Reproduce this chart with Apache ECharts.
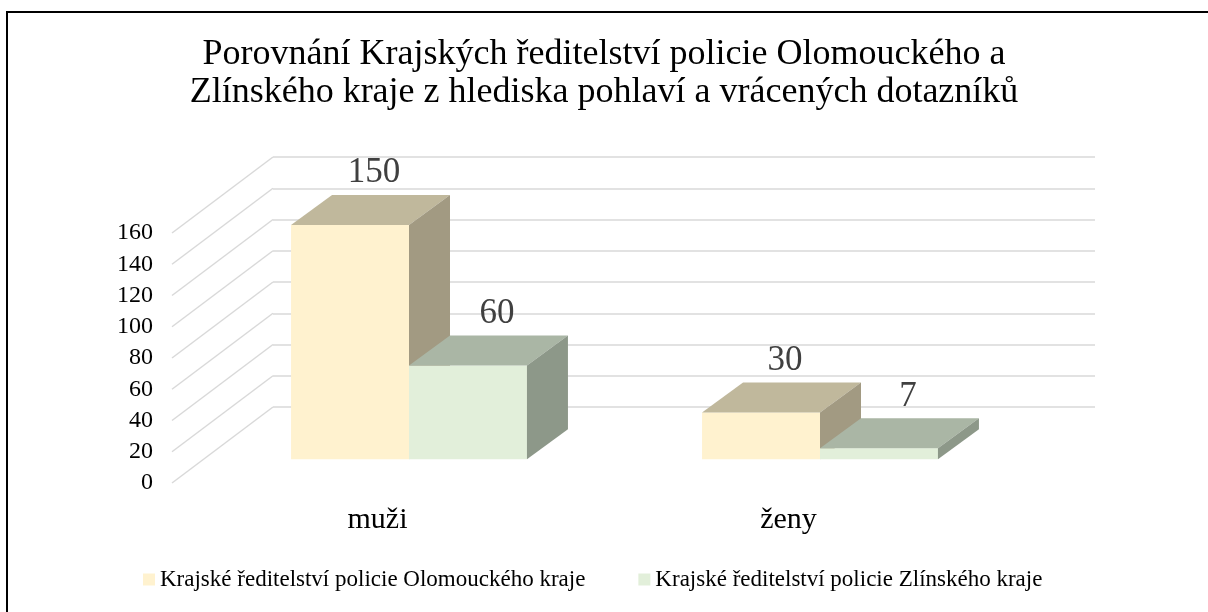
<!DOCTYPE html>
<html>
<head>
<meta charset="utf-8">
<script src="https://cdn.jsdelivr.net/npm/echarts@6/dist/echarts.min.js"></script>
<style>
  html, body { margin: 0; padding: 0; background: #fff; }
  #chart { width: 1208px; height: 612px; }
</style>
</head>
<body>
<div id="chart"></div>
<script>
// data
var categories = ['muži', 'ženy'];
var seriesNames = ['Krajské ředitelství policie Olomouckého kraje', 'Krajské ředitelství policie Zlínského kraje'];
var olomoucValues = [150, 30];
var zlinValues = [60, 7];
var yTicks = [0, 20, 40, 60, 80, 100, 120, 140, 160];

// fake 3d: shift from front plane to back wall, bar placement and depth
var WALL_DX = 101, WALL_DY = -76;
var SHIFT_X = 31.5, SHIFT_Y = -23.7;
var DEPTH_X = 41, DEPTH_Y = -30;
var FONT = '"Liberation Serif", "Times New Roman", serif';

var faces = [
    { front: '#fff2cf', top: '#c0b89c', side: '#a29a82' },
    { front: '#e2efda', top: '#aab6a5', side: '#8d9889' }
];
var labelDx = [24, 29];

function boxRenderer(s) {
    return function (params, api) {
        var cat = api.value(0);
        var val = api.value(1);
        var base = api.coord([cat, 0]);
        var top = api.coord([cat, val]);
        var band = api.size([1, 0])[0];
        var barW = band * 0.287;
        var x0 = base[0] + SHIFT_X - barW + s * barW;
        var x1 = x0 + barW;
        var y0 = base[1] + SHIFT_Y;
        var y1 = top[1] + SHIFT_Y;
        var c = faces[s];
        return {
            type: 'group',
            children: [{
                type: 'polygon',
                shape: { points: [[x0, y0], [x1, y0], [x1, y1], [x0, y1]] },
                style: { fill: c.front }
            }, {
                type: 'polygon',
                shape: { points: [[x0, y1], [x1, y1], [x1 + DEPTH_X, y1 + DEPTH_Y], [x0 + DEPTH_X, y1 + DEPTH_Y]] },
                style: { fill: c.top }
            }, {
                type: 'polygon',
                shape: { points: [[x1, y1], [x1 + DEPTH_X, y1 + DEPTH_Y], [x1 + DEPTH_X, y0 + DEPTH_Y], [x1, y0]] },
                style: { fill: c.side }
            }, {
                type: 'text',
                style: {
                    text: String(val),
                    x: (x0 + x1) / 2 + labelDx[s],
                    y: y1 + DEPTH_Y - 22,
                    fontSize: 35,
                    fontFamily: FONT,
                    fill: '#404040',
                    align: 'center',
                    verticalAlign: 'middle'
                }
            }]
        };
    };
}

// diagonal lines on the left side wall
function wallRenderer(params, api) {
    var p = api.coord([0, api.value(1)]);
    var band = api.size([1, 0])[0];
    var x = p[0] - band / 2;
    return {
        type: 'line',
        shape: { x1: x, y1: p[1], x2: x + WALL_DX, y2: p[1] + WALL_DY },
        style: { stroke: '#d9d9d9', lineWidth: 1.5 }
    };
}

var chart = echarts.init(document.getElementById('chart'));

var option = {
    backgroundColor: '#fff',
    animation: false,
    title: {
        text: 'Porovnání Krajských ředitelství policie Olomouckého a\nZlínského kraje z hlediska pohlaví a vrácených dotazníků',
        left: 'center',
        top: 31,
        textStyle: {
            fontSize: 36,
            lineHeight: 38,
            fontWeight: 'normal',
            fontFamily: FONT,
            color: '#000'
        }
    },
    legend: {
        data: seriesNames,
        left: 143,
        top: 568,
        padding: 0,
        icon: 'rect',
        itemWidth: 12,
        itemHeight: 12,
        itemGap: 53,
        textStyle: { fontSize: 23, fontFamily: FONT, color: '#000' }
    },
    grid: [
        { left: 172, right: 214, top: 233, bottom: 129 },
        { left: 273, right: 113, top: 157, bottom: 205 }
    ],
    xAxis: [{
        gridIndex: 0,
        type: 'category',
        data: categories,
        axisLine: { show: false },
        axisTick: { show: false },
        axisLabel: { fontSize: 30, fontFamily: FONT, color: '#000', margin: 22 }
    }, {
        gridIndex: 1,
        type: 'category',
        data: categories,
        show: false
    }],
    yAxis: [{
        gridIndex: 0,
        type: 'value',
        min: 0,
        max: 160,
        interval: 20,
        splitLine: { show: false },
        axisLine: { show: false },
        axisTick: { show: false },
        axisLabel: { fontSize: 24, fontFamily: FONT, color: '#000', margin: 19 }
    }, {
        gridIndex: 1,
        type: 'value',
        min: 0,
        max: 160,
        interval: 20,
        axisLabel: { show: false },
        axisLine: { show: false },
        axisTick: { show: false },
        splitLine: { show: true, lineStyle: { color: '#d9d9d9', width: 1.5 } }
    }],
    graphic: [{
        type: 'rect',
        shape: { x: 7, y: 12, width: 1400, height: 800 },
        style: { fill: 'none', stroke: '#000', lineWidth: 2 },
        z: 100
    }],
    series: [{
        type: 'custom',
        xAxisIndex: 0,
        yAxisIndex: 0,
        renderItem: wallRenderer,
        data: yTicks.map(function (v) { return [0, v]; }),
        silent: true,
        clip: false,
        z: 1
    }, {
        name: seriesNames[0],
        type: 'custom',
        xAxisIndex: 0,
        yAxisIndex: 0,
        renderItem: boxRenderer(0),
        itemStyle: { color: faces[0].front },
        data: olomoucValues.map(function (v, i) { return [i, v]; }),
        clip: false,
        z: 3
    }, {
        name: seriesNames[1],
        type: 'custom',
        xAxisIndex: 0,
        yAxisIndex: 0,
        renderItem: boxRenderer(1),
        itemStyle: { color: faces[1].front },
        data: zlinValues.map(function (v, i) { return [i, v]; }),
        clip: false,
        z: 4
    }]
};

chart.setOption(option);
</script>
</body>
</html>
